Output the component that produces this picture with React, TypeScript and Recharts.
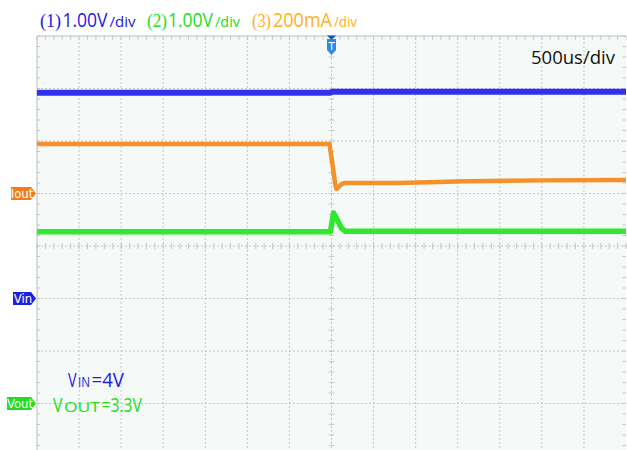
import { LineChart, Line, XAxis, YAxis, ReferenceLine, ReferenceArea, ReferenceDot } from 'recharts'

// time is µs relative to the trigger, 500us per division, 14 divisions
const timeGrid = [-3000, -2500, -2000, -1500, -1000, -500, 0, 500, 1000, 1500, 2000, 2500, 3000]
// vertical position in divisions, centre of the screen = 0
const divGrid = [-3, -2, -1, 0, 1, 2, 3]

// channel ground markers (divisions)
const ch1Offset = -1 // Vin, 1.00V/div
const ch2Offset = -3 // Vout, 1.00V/div
const ch3Offset = 1 // Iout, 200mA/div

const vinTime = [-3500, -20, 10, 3500]
const vinVolts = [3.92, 3.92, 3.94, 3.94]

const voutTime = [-3500, -12, 24, 71, 119, 166, 3500]
const voutVolts = [3.27, 3.27, 3.63, 3.49, 3.34, 3.28, 3.28]

const ioutTime = [-3500, -24, 47, 59, 119, 155, 800, 1600, 2500, 3500]
const ioutMilliamps = [189, 189, 32, 17, 36, 40, 40, 47, 50, 51]

const vinData = vinTime.map((t, i) => ({ t, y: ch1Offset + vinVolts[i] / 1.0 }))
const voutData = voutTime.map((t, i) => ({ t, y: ch2Offset + voutVolts[i] / 1.0 }))
const ioutData = ioutTime.map((t, i) => ({ t, y: ch3Offset + ioutMilliamps[i] / 200 }))

const minorX = Array.from({ length: 71 }, (_, i) => -3500 + i * 100)
const minorY = Array.from({ length: 41 }, (_, i) => -4 + i * 0.2)

const TX = 40
const TY = 0.07
const GRID = '#c6c6c6'
const EDGE = '#bdbdbd'

const tags = [
  { offset: ch3Offset, label: 'Iout', color: '#f07d1a', width: 25 },
  { offset: ch1Offset, label: 'Vin', color: '#1f1fe0', width: 23 },
  { offset: ch2Offset, label: 'Vout', color: '#22dd22', width: 29 },
]

function Tag(props: any) {
  const { cx, cy, label, color, width } = props
  const r = cx - 1
  const body = r - 5
  const left = r - width
  const h = 6.5
  return (
    <g>
      <polygon
        points={`${left},${cy - h} ${body},${cy - h} ${r},${cy} ${body},${cy + h} ${left},${cy + h}`}
        fill={color}
      />
      <text
        x={(left + body) / 2 + 1}
        y={cy + 4.5}
        textAnchor="middle"
        fill="#fff"
        fontSize={13}
        fontFamily="'Liberation Sans Narrow', 'DejaVu Sans Condensed', sans-serif"
      >
        {label}
      </text>
    </g>
  )
}

function TriggerMark(props: any) {
  const { cx, cy } = props
  return (
    <g>
      <polygon points={`${cx - 4.5},${cy - 0.5} ${cx + 4.5},${cy - 0.5} ${cx},${cy + 4}`} fill="#1454b8" />
      <polygon
        points={`${cx - 4.5},${cy + 3} ${cx + 4.5},${cy + 3} ${cx + 4.5},${cy + 14} ${cx},${cy + 19} ${cx - 4.5},${cy + 14}`}
        fill="#2a8be8"
      />
      <text x={cx} y={cy + 13.5} textAnchor="middle" fill="#fff" fontSize={10} fontFamily="'DejaVu Sans', sans-serif">
        T
      </text>
    </g>
  )
}

const sans = "'Open Sans', 'Noto Sans', sans-serif"
const serif = "'Liberation Serif', 'DejaVu Serif', serif"

function Piece({ x, w, size, family, children }: any) {
  return (
    <tspan x={x} fontSize={size} fontFamily={family} textLength={w} lengthAdjust="spacingAndGlyphs">
      {children}
    </tspan>
  )
}

export default function App() {
  const blue = '#2020e0'
  const green = '#22dd22'
  const amber = '#ffb020'
  return (
    <div style={{ position: 'absolute', left: 0, top: 0, width: 627, height: 450, overflow: 'hidden', background: '#fff' }}>
      <LineChart width={627} height={456} margin={{ top: 36, right: 1, bottom: 0, left: 37 }}>
        <XAxis type="number" dataKey="t" domain={[-3500, 3500]} allowDataOverflow hide />
        <YAxis type="number" domain={[-4, 4]} allowDataOverflow hide />
        <ReferenceArea x1={-3500} x2={3500} y1={-4} y2={4} fill="#f5f9f7" fillOpacity={1} stroke="none" ifOverflow="visible" />
        {timeGrid.map((t) => (
          <ReferenceLine key={`gx${t}`} x={t} stroke={GRID} strokeDasharray="2 2" />
        ))}
        {divGrid.map((d) => (
          <ReferenceLine key={`gy${d}`} y={d} stroke={GRID} strokeDasharray="2 2" />
        ))}
        <ReferenceLine y={4} stroke={EDGE} ifOverflow="visible" />
        <ReferenceLine x={-3500} stroke={EDGE} ifOverflow="visible" />
        {minorX.map((t) => (
          <ReferenceLine key={`tt${t}`} segment={[{ x: t, y: 4 }, { x: t, y: 4 - TY }]} stroke={GRID} ifOverflow="visible" />
        ))}
        {minorX.map((t) => (
          <ReferenceLine key={`tc${t}`} segment={[{ x: t, y: -TY * 0.8 }, { x: t, y: TY * 0.8 }]} stroke={GRID} />
        ))}
        {minorY.map((d) => (
          <ReferenceLine key={`tl${d}`} segment={[{ x: -3500, y: d }, { x: -3500 + TX, y: d }]} stroke={GRID} ifOverflow="visible" />
        ))}
        {minorY.map((d) => (
          <ReferenceLine key={`tr${d}`} segment={[{ x: 3500 - TX, y: d }, { x: 3500, y: d }]} stroke={GRID} ifOverflow="visible" />
        ))}
        {minorY.map((d) => (
          <ReferenceLine key={`tm${d}`} segment={[{ x: -TX * 0.8, y: d }, { x: TX * 0.8, y: d }]} stroke={GRID} />
        ))}
        <Line data={vinData} dataKey="y" type="linear" dot={false} stroke="#3030ee" strokeWidth={6} isAnimationActive={false} />
        <Line data={ioutData} dataKey="y" type="linear" dot={false} stroke="#f5902a" strokeWidth={4.5} strokeLinejoin="round" isAnimationActive={false} />
        <Line data={voutData} dataKey="y" type="linear" dot={false} stroke="#30e830" strokeWidth={5.5} strokeLinejoin="round" isAnimationActive={false} />
        <ReferenceDot x={0} y={4} r={0} ifOverflow="visible" shape={<TriggerMark />} />
        {tags.map((tg) => (
          <ReferenceDot
            key={tg.label}
            x={-3500}
            y={tg.offset}
            r={0}
            ifOverflow="visible"
            shape={<Tag label={tg.label} color={tg.color} width={tg.width} />}
          />
        ))}
      </LineChart>
      <svg width={627} height={450} style={{ position: 'absolute', left: 0, top: 0, pointerEvents: 'none' }}>
        <text y={27} fill={blue}>
          <Piece x={40} w={21} size={19} family={serif}>(1)</Piece>
          <Piece x={62.5} w={45} size={20} family={sans}>1.00V</Piece>
          <Piece x={109.5} w={26} size={15} family={sans}>/div</Piece>
        </text>
        <text y={27} fill={green}>
          <Piece x={147} w={20} size={19} family={serif}>(2)</Piece>
          <Piece x={168} w={45} size={20} family={sans}>1.00V</Piece>
          <Piece x={215} w={25} size={15} family={sans}>/div</Piece>
        </text>
        <text y={27} fill={amber}>
          <Piece x={252} w={19} size={19} family={serif}>(3)</Piece>
          <Piece x={273} w={59} size={20} family={sans}>200mA</Piece>
          <Piece x={334} w={23} size={15} family={sans}>/div</Piece>
        </text>
        <text y={64} fill="#111">
          <Piece x={531} w={84} size={18} family={sans}>500us/div</Piece>
        </text>
        <text y={387} fill={blue}>
          <Piece x={68} w={8.5} size={20} family={sans}>V</Piece>
          <Piece x={78} w={12} size={14} family={sans}>IN</Piece>
          <Piece x={91.5} w={32.5} size={20} family={sans}>=4V</Piece>
        </text>
        <text y={412} fill={green}>
          <Piece x={53} w={9.5} size={20} family={sans}>V</Piece>
          <Piece x={64} w={36} size={14} family={sans}>OUT</Piece>
          <Piece x={101.5} w={40.5} size={20} family={sans}>=3.3V</Piece>
        </text>
      </svg>
    </div>
  )
}
